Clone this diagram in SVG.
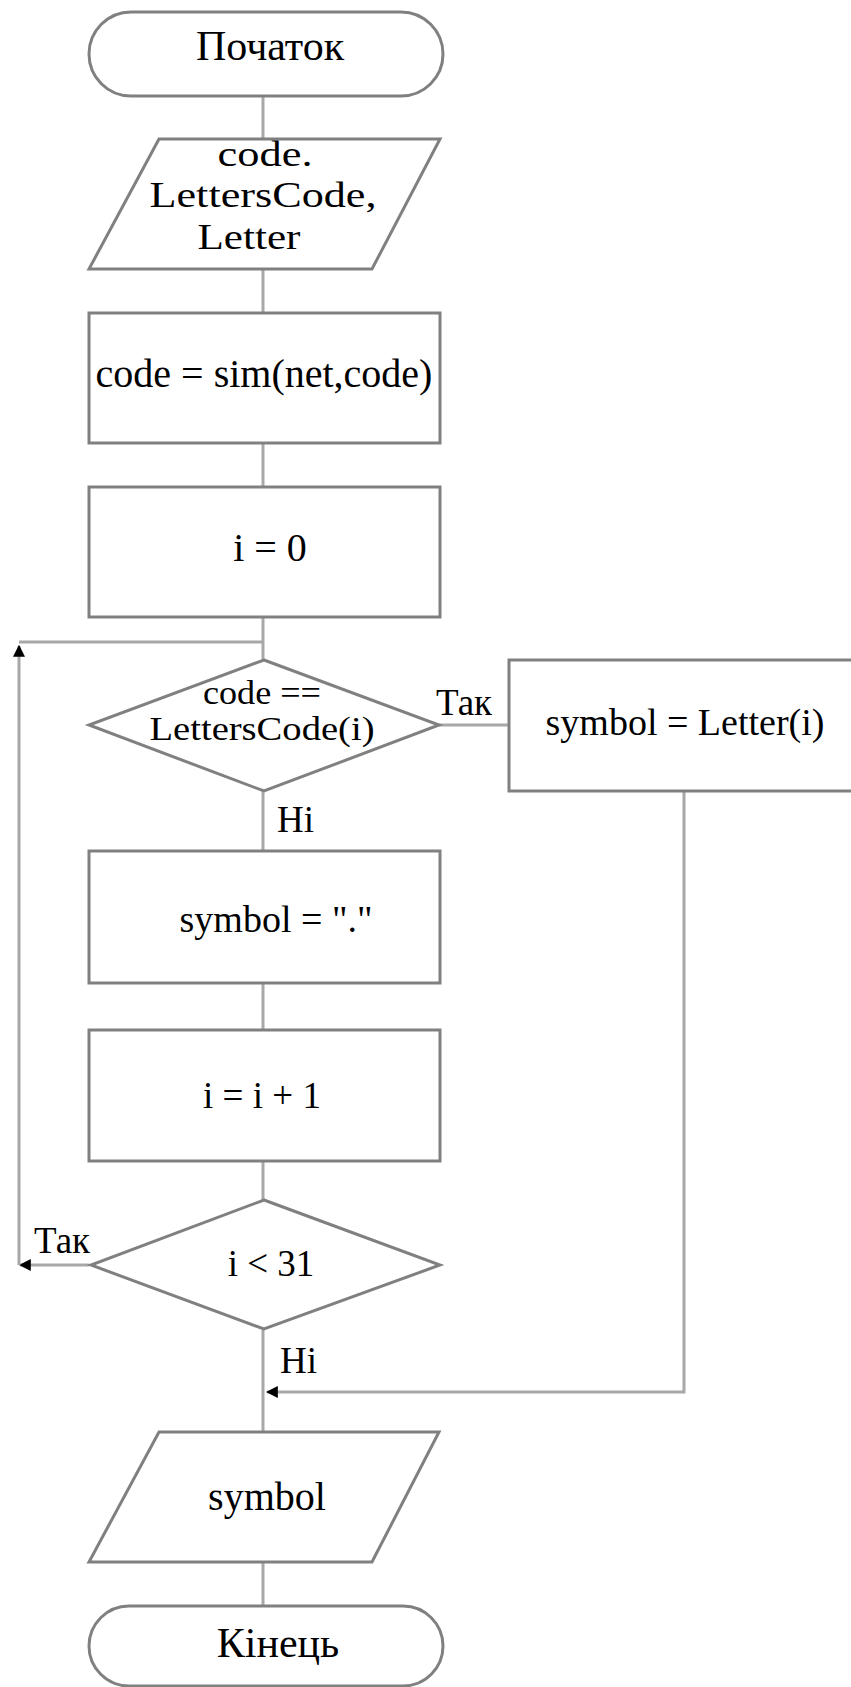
<svg xmlns="http://www.w3.org/2000/svg" width="851" height="1687" viewBox="0 0 851 1687">
<style>
.shape{fill:#fff;stroke:#808080;stroke-width:3}
.conn{fill:none;stroke:#a8a8a8;stroke-width:3}
text{font-family:"Liberation Serif","Times New Roman",serif;fill:#000;text-anchor:middle}
.t42{font-size:42px}
.t40{font-size:40px}
.t38{font-size:38px}
.t37{font-size:37px}
.t36{font-size:36px}
.t33{font-size:33px}
.lbl{font-size:37px;text-anchor:start}
</style>
<defs>
<marker id="arr" viewBox="0 0 10 10" refX="9" refY="5" markerWidth="4" markerHeight="4" orient="auto" markerUnits="strokeWidth">
<path d="M0,0 L10,5 L0,10 z" fill="#000"/>
</marker>
</defs>
<rect width="851" height="1687" fill="#fff"/>
<g id="connectors">
<path class="conn" d="M263,96 V139"/>
<path class="conn" d="M263,269 V313"/>
<path class="conn" d="M263,443 V487"/>
<path class="conn" d="M263,617 V660"/>
<path class="conn" d="M89,1265 H20" marker-end="url(#arr)"/>
<path class="conn" d="M19,1265 V646" marker-end="url(#arr)"/>
<path class="conn" d="M19,642 H263"/>
<path class="conn" d="M439,725 H509"/>
<path class="conn" d="M263,791 V851"/>
<path class="conn" d="M263,983 V1030"/>
<path class="conn" d="M263,1161 V1200"/>
<path class="conn" d="M263,1329 V1432"/>
<path class="conn" d="M684,791 V1392 H267" marker-end="url(#arr)"/>
<path class="conn" d="M263,1562 V1606"/>
</g>
<g id="start">
<rect class="shape" x="89" y="12" width="354" height="84" rx="42" ry="42"/>
<text class="t42" x="270" y="60">Початок</text>
</g>
<g id="input">
<polygon class="shape" points="159,139 440,139 372,269 89,269"/>
<text class="t36" x="265" y="166" textLength="95" lengthAdjust="spacingAndGlyphs">code.</text>
<text class="t36" x="263" y="207" textLength="227" lengthAdjust="spacingAndGlyphs">LettersCode,</text>
<text class="t36" x="249" y="249" textLength="103" lengthAdjust="spacingAndGlyphs">Letter</text>
</g>
<g id="sim">
<rect class="shape" x="89" y="313" width="351" height="130"/>
<text class="t40" x="264" y="387">code = sim(net,code)</text>
</g>
<g id="init">
<rect class="shape" x="89" y="487" width="351" height="130"/>
<text class="t40" x="270" y="561">i = 0</text>
</g>
<g id="cond1">
<polygon class="shape" points="264,660 439,725 264,791 89,725"/>
<text class="t33" x="262" y="704" textLength="118" lengthAdjust="spacingAndGlyphs">code ==</text>
<text class="t33" x="262" y="740" textLength="225" lengthAdjust="spacingAndGlyphs">LettersCode(i)</text>
</g>
<g id="assign">
<rect class="shape" x="509" y="660" width="346" height="131"/>
<text class="t38" x="685" y="735">symbol = Letter(i)</text>
</g>
<g id="dot">
<rect class="shape" x="89" y="851" width="351" height="132"/>
<text class="t38" x="276" y="932">symbol = "."</text>
</g>
<g id="inc">
<rect class="shape" x="89" y="1030" width="351" height="131"/>
<text class="t37" x="262" y="1108">i = i + 1</text>
</g>
<g id="cond2">
<polygon class="shape" points="264,1200 440,1265 264,1329 91,1265"/>
<text class="t37" x="271" y="1276">i &lt; 31</text>
</g>
<g id="output">
<polygon class="shape" points="159,1432 439,1432 372,1562 89,1562"/>
<text class="t40" x="267" y="1510">symbol</text>
</g>
<g id="end">
<rect class="shape" x="89" y="1606" width="354" height="80" rx="40" ry="40"/>
<text class="t42" x="278" y="1657">Кінець</text>
</g>
<g id="labels">
<text class="lbl" x="436" y="715">Так</text>
<text class="lbl" x="277" y="832">Ні</text>
<text class="lbl" x="34" y="1253">Так</text>
<text class="lbl" x="280" y="1373">Ні</text>
</g>
</svg>
